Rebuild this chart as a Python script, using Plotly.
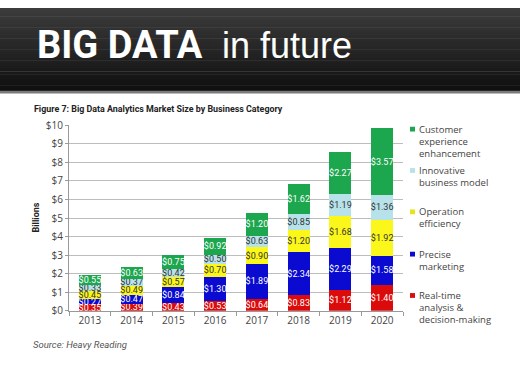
import plotly.graph_objects as go

W, H = 520, 389

years = ["2013", "2014", "2015", "2016", "2017", "2018", "2019", "2020"]
realtime = [0.35, 0.39, 0.43, 0.53, 0.64, 0.83, 1.12, 1.40]
precise = [0.27, 0.47, 0.84, 1.30, 1.89, 2.34, 2.29, 1.58]
operation = [0.45, 0.49, 0.57, 0.70, 0.90, 1.20, 1.68, 1.92]
innovative = [0.33, 0.37, 0.42, 0.50, 0.63, 0.85, 1.19, 1.36]
customer = [0.55, 0.63, 0.75, 0.92, 1.20, 1.62, 2.27, 3.57]

series_names = ["Real-time analysis & decision-making", "Precise marketing",
                "Operation efficiency", "Innovative business model",
                "Customer experience enhancement"]
series_values = [realtime, precise, operation, innovative, customer]
series_colors = ["#dc0b0b", "#0a0ad0", "#fbf71a", "#b8e2ea", "#1ca64d"]
label_colors = ["#ffffff", "#ffffff", "#333333", "#333333", "#ffffff"]

y_ticks = list(range(0, 11))
y_tick_labels = ["$%d" % v for v in y_ticks]

legend_lines = [
    ["Customer", "experience", "enhancement"],
    ["Innovative", "business model"],
    ["Operation", "efficiency"],
    ["Precise", "marketing"],
    ["Real-time", "analysis &", "decision-making"],
]
legend_colors = ["#1ca64d", "#b8e2ea", "#e8e41a", "#0a0ad0", "#dc0b0b"]


def px(x):
    return x / W


def py(y):
    return 1 - y / H


fig = go.Figure()
for name, vals, col, lc in zip(series_names, series_values, series_colors, label_colors):
    fig.add_trace(go.Bar(
        x=years, y=vals, name=name,
        marker=dict(color=col, line=dict(width=0)),
        texttemplate="$%{y:.2f}", textposition="inside",
        insidetextanchor="middle", textangle=0,
        textfont=dict(color=lc, size=9, family="Roboto"),
        showlegend=False,
    ))

shapes = []
# header gradient
n = 30
top_c, bot_c = (0x3c, 0x3c, 0x3c), (0x10, 0x10, 0x10)
for i in range(n):
    t = i / (n - 1)
    c = tuple(int(top_c[k] + (bot_c[k] - top_c[k]) * t) for k in range(3))
    y0 = 86 * i / n
    y1 = 86 * (i + 1) / n + 0.5
    shapes.append(dict(type="rect", xref="paper", yref="paper", x0=0, x1=1,
                       y0=py(y1), y1=py(y0), line=dict(width=0),
                       fillcolor="rgb(%d,%d,%d)" % c, layer="below"))
shapes.append(dict(type="rect", xref="paper", yref="paper", x0=0, x1=1,
                   y0=py(89), y1=py(86), line=dict(width=0),
                   fillcolor="#7a7a7a", layer="below"))

annotations = [
    dict(text="<b>BIG DATA</b>", x=px(35), y=py(39), xref="paper", yref="paper",
         xanchor="left", yanchor="middle", showarrow=False,
         font=dict(family="Roboto", size=38, color="white")),
    dict(text="in future", x=px(220), y=py(39), xref="paper", yref="paper",
         xanchor="left", yanchor="middle", showarrow=False,
         font=dict(family="Liberation Sans, Arial", size=36, color="white")),
    dict(text="<b>Figure 7: Big Data Analytics Market Size by Business Category</b>",
         x=px(32), y=py(105), xref="paper", yref="paper",
         xanchor="left", yanchor="middle", showarrow=False,
         font=dict(family="Roboto", size=8.9, color="#222")),
    dict(text="<b>Billions</b>", x=px(36), y=py(218), xref="paper", yref="paper",
         xanchor="center", yanchor="middle", showarrow=False, textangle=-90,
         font=dict(family="Roboto", size=9, color="#222")),
    dict(text="<i>Source: Heavy Reading</i>", x=px(31), y=py(350), xref="paper",
         yref="paper", xanchor="left", yanchor="middle", showarrow=False,
         font=dict(family="Roboto", size=9.5, color="#555")),
]

# manual legend
starts = [126, 169, 212, 256, 299]
for lines, col, y0 in zip(legend_lines, legend_colors, starts):
    shapes.append(dict(type="rect", xref="paper", yref="paper",
                       x0=px(410), x1=px(415), y0=py(y0 + 2.5), y1=py(y0 - 2.5),
                       line=dict(width=0), fillcolor=col))
    for j, ln in enumerate(lines):
        annotations.append(dict(text=ln, x=px(417), y=py(y0 + j * 12.5),
                                xref="paper", yref="paper", xanchor="left",
                                yanchor="middle", showarrow=False,
                                font=dict(family="Open Sans", size=9.5, color="#444")))

fig.update_layout(
    barmode="stack", bargap=0.47,
    width=W, height=H,
    margin=dict(l=0, r=0, t=0, b=0),
    paper_bgcolor="white", plot_bgcolor="white",
    uniformtext=dict(mode="show", minsize=9),
    shapes=shapes, annotations=annotations,
    xaxis=dict(domain=[px(69), px(403)], range=[-0.5, 7.5], type="category",
               tickson="boundaries", ticks="outside", ticklen=4, tickcolor="#999",
               showline=True, linecolor="#999", linewidth=1, showgrid=False,
               tickfont=dict(family="Open Sans", size=10, color="#444")),
    yaxis=dict(domain=[py(315), py(122)], range=[0, 10], tickvals=y_ticks,
               ticktext=y_tick_labels, ticks="outside", ticklen=3, tickcolor="#999",
               showline=True, linecolor="#999", linewidth=1,
               showgrid=True, gridcolor="#bdbdbd", gridwidth=1, zeroline=False,
               tickfont=dict(family="Open Sans", size=10, color="#444")),
)

fig.write_html("out.html", config={"displayModeBar": False},
               post_script="document.body.style.margin='0px';document.body.style.overflow='hidden';")
